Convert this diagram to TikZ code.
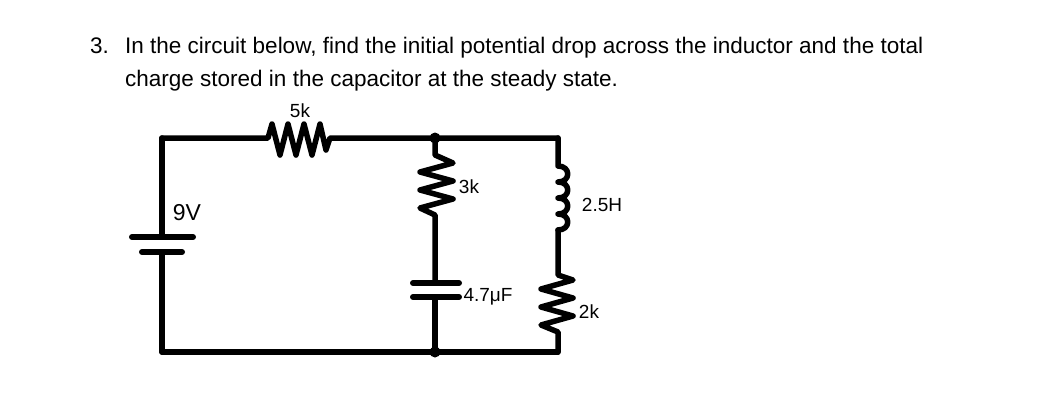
\documentclass[tikz,border=0pt]{standalone}
\usepackage{fontspec}
\setmainfont{Liberation Sans}
\begin{document}
\begin{tikzpicture}[x=1pt,y=1pt,yscale=-1,
    wire/.style={line width=5.5pt,line join=round,line cap=round},
    plate/.style={line width=6pt,line cap=round},
    lbl/.style={inner sep=0pt,font=\fontsize{19}{19}\selectfont},
    txt/.style={inner sep=0pt,anchor=base west,font=\fontsize{22.5}{26}\selectfont}]
        \useasboundingbox (0,0) rectangle (1051,408);
        % text
        \node[txt] (num) at (90,53) {3.};
        \node[txt] (l1) at (125,53) {In the circuit below, find the initial potential drop across the inductor and the total};
        \node[txt] (l2) at (125,86) {charge stored in the capacitor at the steady state.};
        % corners
        \coordinate (tl) at (162,138);
        \coordinate (tm) at (435,138);
        \coordinate (tr) at (558,138);
        \coordinate (bl) at (162,352);
        \coordinate (bm) at (435,352);
        \coordinate (br) at (558,352);
        % battery
        \coordinate (bat1) at (162,237);
        \coordinate (bat2) at (162,252);
        \draw[wire] (tl) -- (bat1);
        \draw[wire] (bat2) -- (bl);
        \draw[plate] (132,237) -- (193,237);
        \draw[plate] (142,252) -- (182,252);
        \node[lbl,font=\fontsize{23}{23}\selectfont] (v9) at (187,213) {9V};
        % 5k
        \coordinate (r5a) at (268,138);
        \coordinate (r5b) at (330,138);
        \draw[wire] (tl) -- (r5a) -- (272,124) -- (280,155) -- (288,124) -- (296,155) -- (304,124) -- (312,155) -- (320,124) -- (326,150) -- (r5b) -- (tm) -- (tr);
        \node[lbl] (r5l) at (300,111) {5k};
        % 3k and capacitor
        \coordinate (r3a) at (435,155);
        \coordinate (r3b) at (435,215);
        \draw[wire] (tm) -- (r3a) -- (453,163) -- (420,172) -- (453,181) -- (420,190) -- (453,199) -- (420,208) -- (r3b) -- (435,283);
        \node[lbl] (r3l) at (469,187) {3k};
        \draw[plate] (413,283) -- (459,283);
        \draw[plate] (413,297) -- (459,297);
        \draw[wire] (435,297) -- (bm);
        \node[lbl] (cl) at (488,297) {4.7μF};
        % inductor and 2k
        \coordinate (la) at (558,166);
        \coordinate (lb) at (558,230);
        \draw[wire] (tr) -- (la)
            .. controls (571,166) and (571,182) .. (558,182)
            .. controls (571,182) and (571,198) .. (558,198)
            .. controls (571,198) and (571,214) .. (558,214)
            .. controls (571,214) and (571,230) .. (lb);
        \draw[wire] (lb) -- (558,275) -- (573,280) -- (541,289) -- (573,298) -- (541,307) -- (573,316) -- (541,325) -- (558,332) -- (br);
        \node[lbl] (ll) at (602,205) {2.5H};
        \node[lbl] (r2l) at (589,312) {2k};
        % bottom
        \draw[wire] (bl) -- (bm) -- (br);
        \fill (tm) circle (5.5);
        \fill (bm) circle (5.5);
\end{tikzpicture}
\end{document}
